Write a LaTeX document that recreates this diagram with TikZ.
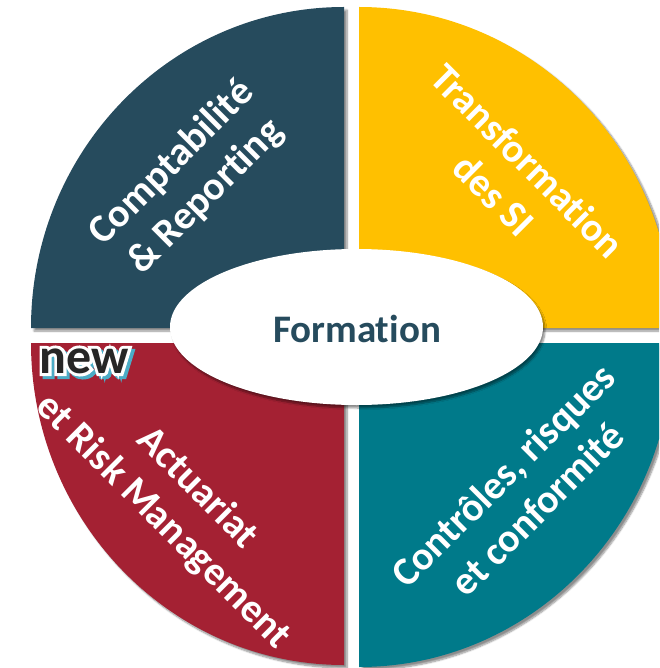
\documentclass[tikz,border=0pt]{standalone}
\usepackage{fontspec}
\setsansfont{Carlito}[Ligatures={NoCommon}]
\newfontfamily\newfontA{Carlito}[Ligatures={NoCommon},BoldFont={* Bold},FakeBold=12]
\newfontfamily\newfontB{Carlito}[Ligatures={NoCommon},BoldFont={* Bold}]
\usetikzlibrary{shadows.blur}
\definecolor{slate}{RGB}{38,75,93}
\definecolor{gold}{RGB}{255,192,0}
\definecolor{tealq}{RGB}{0,122,138}
\definecolor{redq}{RGB}{164,33,51}
\definecolor{newcyan}{RGB}{75,172,198}
\tikzset{
  quad/.style={blur shadow={shadow xshift=3pt, shadow yshift=-3pt, shadow blur steps=8, shadow opacity=45}},
  lbl/.style={text=white, align=center, font=\sffamily\bfseries\fontsize{40}{48}\selectfont, inner sep=0pt},
  newout/.style={font=\newfontA\bfseries\fontsize{50}{50}\selectfont, inner sep=0pt},
  newin/.style={font=\newfontB\bfseries\fontsize{50}{50}\selectfont, inner sep=0pt}
}
\begin{document}
\begin{tikzpicture}[x=1pt,y=-1pt]
\useasboundingbox (0,0) rectangle (659,668);
\begin{scope}
\clip (0,0) rectangle (659,668);
% quadrants
\fill[slate,quad] (344,328) -- (31,328) arc[start angle=180,end angle=270,x radius=313,y radius=321] -- cycle;
\fill[gold,quad] (359,328) -- (359,7) arc[start angle=270,end angle=360,x radius=314,y radius=321] -- cycle;
\fill[redq,quad] (344,343) -- (344,665) arc[start angle=90,end angle=180,x radius=313,y radius=322] -- (344,343) -- cycle;
\fill[tealq,quad] (359,343) -- (673,343) arc[start angle=0,end angle=90,x radius=314,y radius=324] -- cycle;
\end{scope}
% centre ellipse
\fill[white,blur shadow={shadow xshift=2pt, shadow yshift=-3pt, shadow blur steps=8, shadow opacity=45}] (356.5,327) ellipse[x radius=186.5,y radius=78];
\node[text=slate, font=\sffamily\bfseries\fontsize{39}{39}\selectfont, inner sep=0pt] (form) at (357,329) {Formation};
% labels
\node[lbl, rotate=45] (compta) at (189,180) {Comptabilité\\\& Reporting};
\node[lbl, rotate=-45] (transfo) at (511,178) {Transformation\\des SI};
\node[lbl, rotate=-45] (actu) at (180,505) {Actuariat\\et Risk Management};
\node[lbl, rotate=45] (ctrl) at (520,492) {Contrôles, risques\\et conformité};
% "new" badge
\node[newout,text=newcyan] (newc) at (87,364) {new};
\node[newout,text=white] (neww) at (84,361) {new};
\node[newin,text=black!85] (new) at (84,361) {new};
\end{tikzpicture}
\end{document}
